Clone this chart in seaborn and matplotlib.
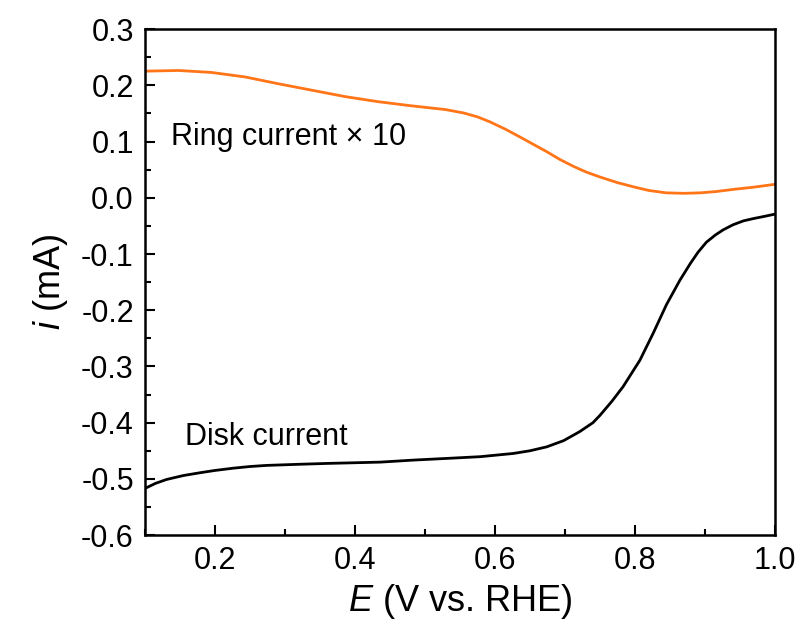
# RRDE polarisation curve: disk and ring currents
import pandas as pd
import numpy as np
import seaborn as sns
import matplotlib.pyplot as plt
from matplotlib.ticker import MultipleLocator

# Disk current (mA) vs potential (V vs. RHE)
disk_E = [0.100, 0.115, 0.131, 0.155, 0.179, 0.200, 0.226, 0.250, 0.274, 0.321,
          0.360, 0.393, 0.436, 0.483, 0.531, 0.579, 0.626, 0.650, 0.674, 0.698,
          0.721, 0.740, 0.750, 0.767, 0.783, 0.807, 0.826, 0.845, 0.864, 0.879,
          0.890, 0.902, 0.915, 0.926, 0.940, 0.955, 0.969, 0.985, 1.000]
disk_i = [-0.517, -0.508, -0.501, -0.494, -0.489, -0.485, -0.481, -0.478, -0.476, -0.474,
          -0.4725, -0.4715, -0.4702, -0.4666, -0.4636, -0.4605, -0.4548, -0.450, -0.443, -0.432,
          -0.416, -0.400, -0.387, -0.362, -0.336, -0.289, -0.241, -0.190, -0.147, -0.117,
          -0.097, -0.079, -0.066, -0.057, -0.048, -0.041, -0.037, -0.033, -0.029]

# Ring current x 10 (mA)
ring_E = [0.100, 0.148, 0.195, 0.243, 0.290, 0.338, 0.386, 0.433, 0.481, 0.529,
          0.555, 0.575, 0.593, 0.615, 0.636, 0.655, 0.674, 0.693, 0.712, 0.730,
          0.750, 0.775, 0.798, 0.820, 0.845, 0.870, 0.893, 0.915, 0.940, 0.970,
          1.000]
ring_i = [0.2253, 0.2265, 0.223, 0.215, 0.203, 0.1915, 0.180, 0.171, 0.1636, 0.157,
          0.151, 0.144, 0.135, 0.122, 0.108, 0.095, 0.082, 0.068, 0.056, 0.046,
          0.037, 0.027, 0.0195, 0.013, 0.0088, 0.008, 0.0088, 0.011, 0.0149, 0.019,
          0.024]

disk = pd.DataFrame({'E': disk_E, 'i': disk_i})
ring = pd.DataFrame({'E': ring_E, 'i': ring_i})

sns.set_style("ticks")
plt.rcParams['font.family'] = ['Liberation Sans', 'DejaVu Sans']
plt.rcParams['mathtext.fontset'] = 'custom'
plt.rcParams['mathtext.it'] = 'Liberation Sans:italic'
plt.rcParams['text.color'] = 'black'
plt.rcParams['axes.labelcolor'] = 'black'
plt.rcParams['xtick.color'] = 'black'
plt.rcParams['ytick.color'] = 'black'

fig = plt.figure(figsize=(8.01, 6.34), dpi=100)
ax = fig.add_axes([0.181, 0.156, 0.7865, 0.798])

sns.lineplot(data=disk, x='E', y='i', color='black', linewidth=2.0, ax=ax)
sns.lineplot(data=ring, x='E', y='i', color='#ff7518', linewidth=2.0, ax=ax)

ax.set_xlim(0.1, 1.0)
ax.set_ylim(-0.6, 0.3)
ax.xaxis.set_major_locator(MultipleLocator(0.2))
ax.xaxis.set_minor_locator(MultipleLocator(0.1))
ax.yaxis.set_major_locator(MultipleLocator(0.1))
ax.yaxis.set_minor_locator(MultipleLocator(0.05))
ax.xaxis.set_major_formatter(plt.FuncFormatter(lambda v, p: f'{v:.1f}'))
ax.yaxis.set_major_formatter(plt.FuncFormatter(lambda v, p: f'{v:.1f}'))

ax.tick_params(which='major', direction='in', length=7, width=1.5, labelsize=22, pad=8)
ax.tick_params(which='minor', direction='in', length=4, width=1.5)
for s in ax.spines.values():
    s.set_linewidth(1.8)
    s.set_color('black')

ax.set_xlabel('$E$ (V vs. RHE)', fontsize=26, labelpad=4)
ax.set_ylabel('$i$ (mA)', fontsize=26, labelpad=8)

ax.text(0.137, 0.108, 'Ring current \u00d7 10', fontsize=22, va='center', ha='left')
ax.text(0.157, -0.426, 'Disk current', fontsize=22, va='center', ha='left')

fig.savefig('out.png', dpi=100)
